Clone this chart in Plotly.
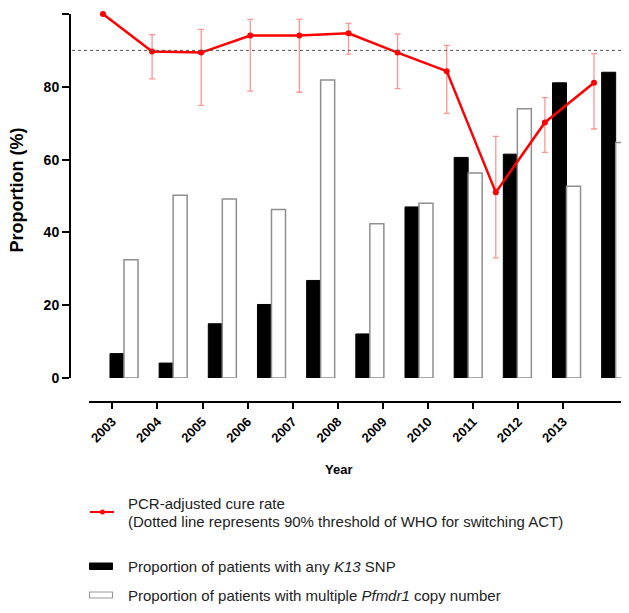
import plotly.graph_objects as go

# ---------------- data ----------------
years = [2003, 2004, 2005, 2006, 2007, 2008, 2009, 2010, 2011, 2012, 2013]
year_labels = [str(y) for y in years]
k13_snp = [6.7, 4.1, 14.9, 20.2, 26.8, 12.1, 47.0, 60.6, 61.5, 81.1, 84.0]
pfmdr1_multi = [32.5, 50.2, 49.2, 46.3, 81.9, 42.4, 48.0, 56.3, 74.0, 52.7, 64.7]
cure_rate = [100.0, 89.7, 89.4, 94.1, 94.1, 94.7, 89.4, 84.3, 51.0, 70.2, 81.1]
cure_upper = [None, 94.3, 95.8, 98.5, 98.5, 97.4, 94.5, 91.4, 66.4, 77.0, 89.1]
cure_lower = [None, 82.2, 74.9, 78.8, 78.5, 89.0, 79.5, 72.7, 33.0, 62.0, 68.4]
who_threshold = 90
y_ticks = [0, 20, 40, 60, 80, 100]

# ---------------- layout helpers (window pixel -> paper) ----------------
W, H = 629, 613
OFF = 8  # page body margin around the figure
ML, MT = 70 - OFF, 14 - OFF
MB = H - (402 - OFF)
MR = OFF
PW, PH = W - ML - MR, H - MT - MB


def fx(px):
    return (px - OFF - ML) / PW


def fy(py):
    return (H - MB - (py - OFF)) / PH


err_plus = [float('nan') if u is None else u - v for u, v in zip(cure_upper, cure_rate)]
err_minus = [float('nan') if l is None else v - l for l, v in zip(cure_lower, cure_rate)]

fig = go.Figure()

fig.add_trace(go.Bar(
    x=years, y=k13_snp, name="Proportion of patients with any K13 SNP",
    marker=dict(color="black", line=dict(color="black", width=1)),
    xaxis="x", yaxis="y", showlegend=False, hoverinfo="skip",
))
fig.add_trace(go.Bar(
    x=years, y=pfmdr1_multi, name="Proportion of patients with multiple Pfmdr1 copy number",
    marker=dict(color="white", line=dict(color="#8f8f8f", width=1.5)),
    xaxis="x", yaxis="y", showlegend=False, hoverinfo="skip",
))
fig.add_trace(go.Scatter(
    x=years, y=cure_rate, mode="lines+markers", name="PCR-adjusted cure rate",
    line=dict(color="#ff0000", width=2.5),
    marker=dict(color="#ff0000", size=6),
    error_y=dict(type="data", symmetric=False, array=err_plus, arrayminus=err_minus,
                 color="rgba(255,60,60,0.55)", thickness=1.3, width=3),
    xaxis="x2", yaxis="y", cliponaxis=False, showlegend=False, hoverinfo="skip",
))
# carrier trace for the visible year axis
fig.add_trace(go.Scatter(
    x=years, y=[None] * len(years), mode="markers", xaxis="x3", yaxis="y",
    showlegend=False, hoverinfo="skip",
))

fig.update_layout(
    width=W, height=H,
    margin=dict(l=ML, r=MR, t=MT, b=MB, pad=0),
    paper_bgcolor="white", plot_bgcolor="rgba(0,0,0,0)",
    barmode="group", bargap=0.43, bargroupgap=0,
    showlegend=False,
    font=dict(family="Liberation Sans, Arial, sans-serif", color="black"),
    xaxis=dict(domain=[0, 1], range=[2001.902, 2013.271], visible=False,
               anchor="y", fixedrange=True),
    xaxis2=dict(overlaying="x", range=[2002.328, 2013.713], visible=False,
                anchor="y", fixedrange=True),
    xaxis3=dict(domain=[fx(89), 1], range=[2002.483, 2014.456], anchor="free", position=0,
                tickmode="array", tickvals=years, ticktext=year_labels, tickangle=-45,
                ticks="outside", ticklen=6, tickwidth=2, tickcolor="black",
                showline=True, linewidth=2, linecolor="black",
                showgrid=False, zeroline=False,
                tickfont=dict(size=13, weight="bold", color="black")),
    yaxis=dict(domain=[fy(378), 1], range=[0, 100], anchor="free", position=0,
               tickmode="array", tickvals=y_ticks,
               ticks="outside", ticklen=7, tickwidth=2, tickcolor="black",
               showline=True, linewidth=2, linecolor="black",
               showgrid=False, zeroline=False,
               tickfont=dict(size=14, weight="bold", color="black")),
)

# WHO threshold dotted line
fig.add_shape(type="line", xref="paper", yref="y", x0=fx(72), x1=1,
              y0=who_threshold, y1=who_threshold,
              line=dict(color="#555555", width=1, dash="dot"))

# axis titles
fig.add_annotation(text="<b>Year</b>", xref="paper", yref="paper",
                   x=fx(338), y=fy(469), showarrow=False,
                   font=dict(size=13, color="black"), xanchor="center", yanchor="middle")
fig.add_annotation(text="<b>Proportion (%)</b>", xref="paper", yref="paper",
                   x=fx(16.5), y=fy(190), showarrow=False, textangle=-90,
                   font=dict(size=18, color="black"), xanchor="center", yanchor="middle")

# custom legend
leg_font = dict(size=15, color="#222222", family="Liberation Sans, Arial, sans-serif")
tx = fx(125.5)
fig.add_shape(type="line", xref="paper", yref="paper", x0=fx(90), x1=fx(114),
              y0=fy(512), y1=fy(512), line=dict(color="#ff0000", width=2))
fig.add_shape(type="circle", xref="paper", yref="paper", x0=fx(100), x1=fx(105),
              y0=fy(514.5), y1=fy(509.5), fillcolor="#ff0000", line=dict(color="#ff0000", width=0))
fig.add_annotation(text="PCR-adjusted cure rate", xref="paper", yref="paper",
                   x=tx, y=fy(503), showarrow=False, xanchor="left", yanchor="middle", font=leg_font)
fig.add_annotation(text="(Dotted line represents 90% threshold of WHO for switching ACT)",
                   xref="paper", yref="paper", x=tx, y=fy(521), showarrow=False,
                   xanchor="left", yanchor="middle", font=leg_font)

fig.add_shape(type="rect", xref="paper", yref="paper", x0=fx(89.5), x1=fx(112.5),
              y0=fy(569.5), y1=fy(563), fillcolor="black", line=dict(color="black", width=1))
fig.add_annotation(text="Proportion of patients with any <i>K13</i> SNP", xref="paper", yref="paper",
                   x=tx, y=fy(566), showarrow=False, xanchor="left", yanchor="middle", font=leg_font)

fig.add_shape(type="rect", xref="paper", yref="paper", x0=fx(89.5), x1=fx(112.5),
              y0=fy(598), y1=fy(592), fillcolor="white", line=dict(color="#9a9a9a", width=1.2))
fig.add_annotation(text="Proportion of patients with multiple <i>Pfmdr1</i> copy number",
                   xref="paper", yref="paper", x=tx, y=fy(595), showarrow=False,
                   xanchor="left", yanchor="middle", font=leg_font)

fig.write_html("out.html")
